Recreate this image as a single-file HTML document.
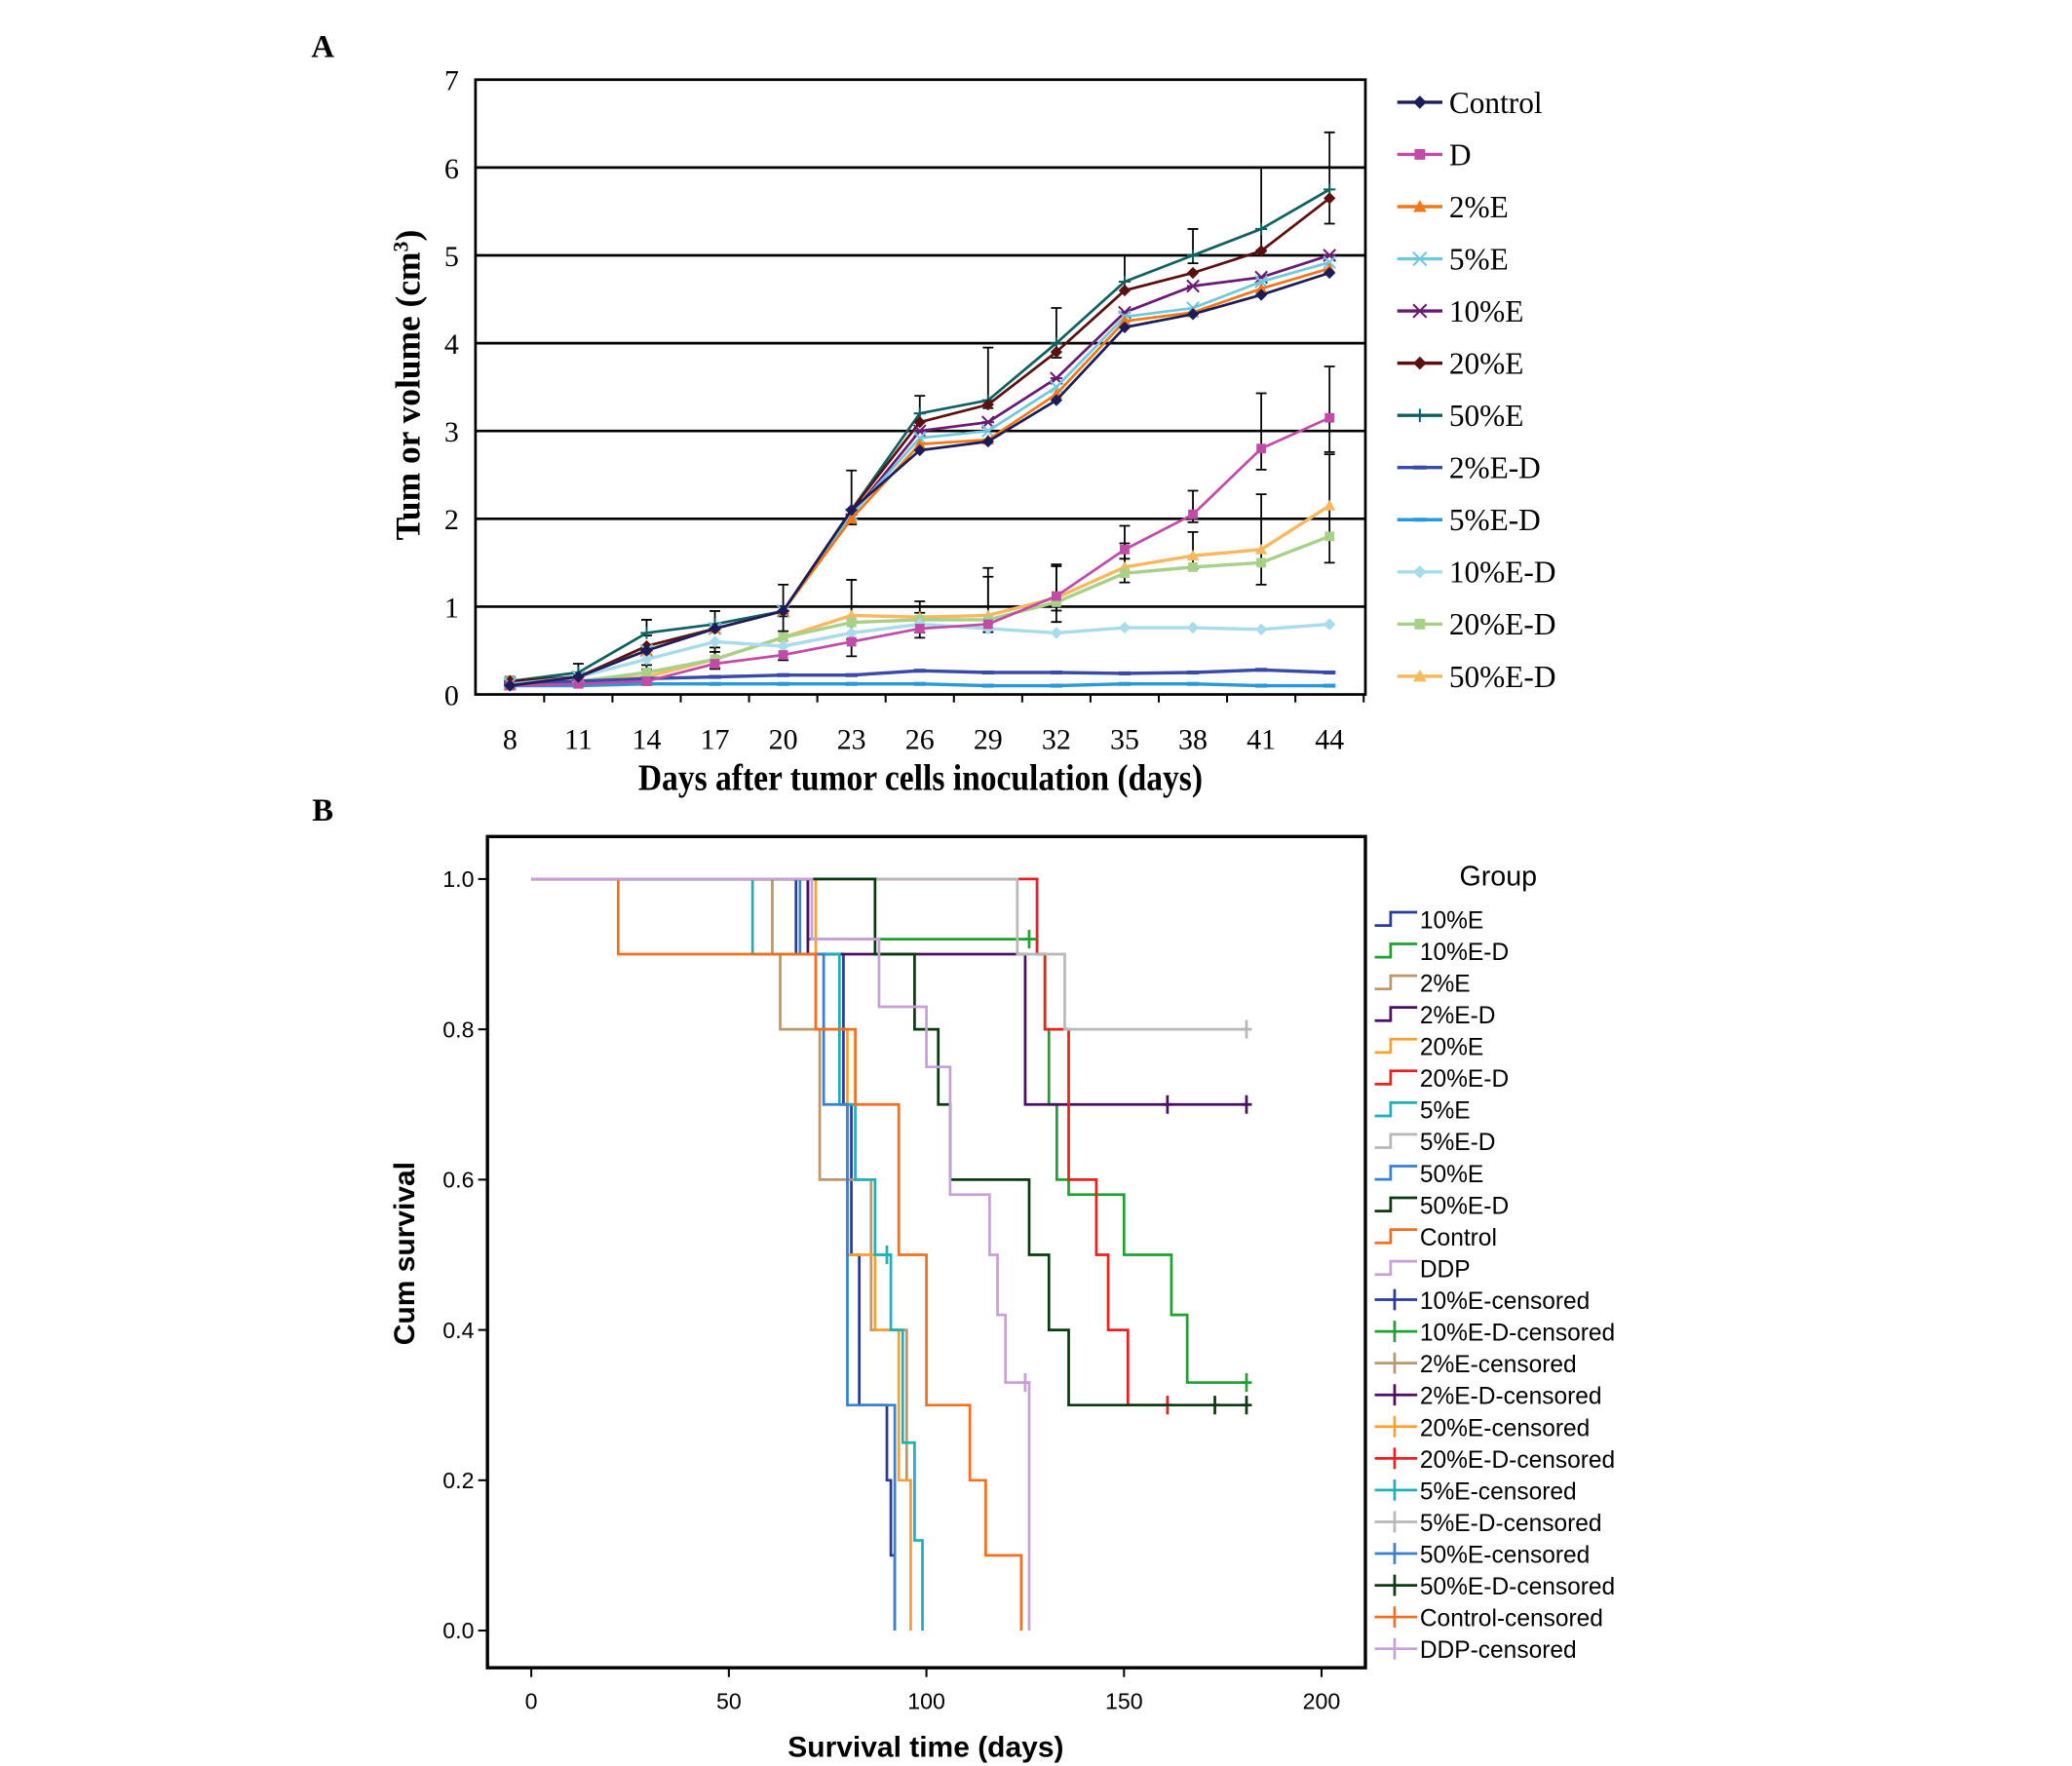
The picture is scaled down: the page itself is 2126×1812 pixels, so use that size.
<!DOCTYPE html>
<html><head><meta charset="utf-8"><style>
html,body{margin:0;padding:0;background:#fff}
svg{display:block}
.serif{font-family:"Liberation Serif",serif}
.sans{font-family:"Liberation Sans",sans-serif}
</style></head><body>
<svg id="chart" width="2126" height="1812" viewBox="0 0 1560 1330" preserveAspectRatio="none" xmlns="http://www.w3.org/2000/svg">
<text x="243" y="43" class="serif" font-size="24" font-weight="bold" text-anchor="middle">A</text>
<text x="243" y="618" class="serif" font-size="24" font-weight="bold" text-anchor="middle">B</text>
<g id="panelA"></g>
<g id="panelB"></g>
</svg>
<script>
// ---------- Panel A data ----------
const daysA = [8,11,14,17,20,23,26,29,32,35,38,41,44];
const yTicksA = [0,1,2,3,4,5,6,7];
const groupsA = ["Control","D","2%E","5%E","10%E","20%E","50%E","2%E-D","5%E-D","10%E-D","20%E-D","50%E-D"];
const colorsA = ["#1c1c5a","#c04ca8","#f07818","#70c8e0","#6a1a70","#5a1010","#106060","#3a4aa8","#2898d8","#a8dcea","#a8d088","#f8b860"];
const markersA = ["diamond","square","triangle","x","star","diamond","plus","dash","dash","diamond","square","triangle"];
const vControl = [0.1,0.2,0.5,0.75,0.95,2.1,2.78,2.88,3.35,4.18,4.33,4.55,4.8];
const vD       = [0.1,0.12,0.15,0.35,0.45,0.6,0.75,0.8,1.12,1.65,2.05,2.8,3.15];
const v2E      = [0.1,0.2,0.5,0.75,0.95,2.0,2.85,2.9,3.42,4.25,4.35,4.62,4.85];
const v5E      = [0.12,0.2,0.5,0.75,0.95,2.05,2.92,3.0,3.5,4.3,4.4,4.7,4.92];
const v10E     = [0.12,0.2,0.5,0.75,0.95,2.05,3.0,3.1,3.6,4.35,4.65,4.75,5.0];
const v20E     = [0.15,0.2,0.55,0.75,0.95,2.1,3.1,3.3,3.9,4.6,4.8,5.05,5.65];
const v50E     = [0.15,0.25,0.7,0.8,0.95,2.1,3.2,3.35,4.0,4.7,5.0,5.3,5.75];
const v2ED     = [0.12,0.15,0.18,0.2,0.22,0.22,0.27,0.25,0.25,0.24,0.25,0.28,0.25];
const v5ED     = [0.1,0.1,0.12,0.12,0.12,0.12,0.12,0.1,0.1,0.12,0.12,0.1,0.1];
const v10ED    = [0.15,0.2,0.4,0.6,0.55,0.7,0.8,0.75,0.7,0.76,0.76,0.74,0.8];
const v20ED    = [0.15,0.15,0.25,0.4,0.65,0.82,0.85,0.85,1.05,1.38,1.45,1.5,1.8];
const v50ED    = [0.1,0.15,0.2,0.4,0.65,0.9,0.88,0.9,1.1,1.45,1.58,1.65,2.15];
const errTop   = [0.05,0.1,0.15,0.15,0.3,0.45,0.2,0.6,0.4,0.3,0.3,0.7,0.65];
const errLow   = [0.05,0.05,0.1,0.2,0.2,0.55,0.35,0.3,0.55,0.35,0.3,0.8,1.3];
const valuesA = [vControl,vD,v2E,v5E,v10E,v20E,v50E,v2ED,v5ED,v10ED,v20ED,v50ED];

// ---------- Panel B data ----------
const xTicksB = [0,50,100,150,200];
const yTicksB = [0,0.2,0.4,0.6,0.8,1.0];
const groupsB = ["10%E","10%E-D","2%E","2%E-D","20%E","20%E-D","5%E","5%E-D","50%E","50%E-D","Control","DDP"];
const colorsB = ["#2a3a9a","#20a030","#b8986c","#4a1060","#f8a030","#e82020","#20b0b8","#b8b8b8","#3a80d0","#0a3a10","#f07020","#c8a0d8"];
const tE    = [0,67,79,81,83,90,91,92];            const sE    = [1,0.9,0.7,0.5,0.3,0.2,0.1,0];
const tED   = [0,70,128,130,131,133,136,150,162,166,181]; const sED = [1,0.92,0.9,0.8,0.7,0.6,0.58,0.5,0.42,0.33,0.33];
const t2E   = [0,61,63,73,86,95,96];               const s2E   = [1,0.9,0.8,0.6,0.4,0.2,0];
const t2ED  = [0,70,125,181];                      const s2ED  = [1,0.9,0.7,0.7];
const t20E  = [0,72,80,87,93,96];                  const s20E  = [1,0.8,0.5,0.4,0.2,0];
const t20ED = [0,128,130,136,143,146,151,161];     const s20ED = [1,0.9,0.8,0.6,0.5,0.4,0.3,0.3];
const t5E   = [0,56,78,82,87,91,94,97,99];         const s5E   = [1,0.9,0.7,0.6,0.5,0.4,0.25,0.12,0];
const t5ED  = [0,123,135,181];                     const s5ED  = [1,0.9,0.8,0.8];
const t50E  = [0,68,74,80,88,92];                  const s50E  = [1,0.9,0.7,0.3,0.3,0];
const t50ED = [0,67,87,97,103,106,126,131,136,181]; const s50ED = [1,1,0.9,0.8,0.7,0.6,0.5,0.4,0.3,0.3];
const tC    = [0,22,72,82,93,100,111,115,124];     const sC    = [1,0.9,0.8,0.7,0.5,0.3,0.2,0.1,0];
const tDDP  = [0,71,88,100,106,116,118,120,126];   const sDDP  = [1,0.92,0.83,0.75,0.58,0.5,0.42,0.33,0];
const timesB = [tE,tED,t2E,t2ED,t20E,t20ED,t5E,t5ED,t50E,t50ED,tC,tDDP];
const survB  = [sE,sED,s2E,s2ED,s20E,s20ED,s5E,s5ED,s50E,s50ED,sC,sDDP];
const censorT = [[],[126,181],[],[161,181],[],[161],[90],[181],[],[173,181],[],[125]];
const censorS = [[],[0.92,0.33],[],[0.7,0.7],[],[0.3],[0.5],[0.8],[],[0.3,0.3],[],[0.33]];

const NS="http://www.w3.org/2000/svg";
function mk(parent,tag,attrs,text){const e=document.createElementNS(NS,tag);for(const k in attrs)e.setAttribute(k,attrs[k]);if(text!==undefined)e.textContent=text;parent.appendChild(e);return e;}

// ---------- Draw A ----------
(function(){
const g=document.getElementById('panelA');
const L=358,R=1028,T=60,B=523;
const xA=i=>384+i*(1001-384)/(daysA.length-1);
const yA=v=>B-(v/7)*(B-T);
yTicksA.forEach(v=>{
  if(v>0&&v<7){const l=mk(g,'line',{x1:L,x2:R,y1:yA(v),y2:yA(v),stroke:'#000','stroke-width':2});
  
  }
  const t=mk(g,'text',{x:340,y:yA(v)+8,'font-size':22,'text-anchor':'middle',class:'serif'},String(v));
  
  
});
daysA.forEach((d,i)=>{
  const tk=mk(g,'line',{x1:xA(i)+25.7,x2:xA(i)+25.7,y1:B,y2:B+6,stroke:'#000','stroke-width':1.5});
  
  
  const t=mk(g,'text',{x:xA(i),y:564,'font-size':22,'text-anchor':'middle',class:'serif'},String(d));
  
  
});
[6,1,11].forEach(si=>{
  valuesA[si].forEach((v,i)=>{
    const up=si===6?errTop[i]:errTop[i]*0.9, lo=si===11?errLow[i]*0.5:errLow[i]*0.3;
    const e=mk(g,'path',{d:`M${xA(i)} ${yA(v+up)}V${yA(Math.max(0,v-lo))}M${xA(i)-4} ${yA(v+up)}h8M${xA(i)-4} ${yA(Math.max(0,v-lo))}h8`,stroke:'#000','stroke-width':1.3,fill:'none'});
    
    
  });
});
function marker(p,type,x,y,c,s){
  let e;
  if(type==='diamond')e=mk(p,'path',{d:`M${x} ${y-s}L${x+s} ${y}L${x} ${y+s}L${x-s} ${y}Z`,fill:c});
  else if(type==='square')e=mk(p,'rect',{x:x-s*0.8,y:y-s*0.8,width:s*1.6,height:s*1.6,fill:c});
  else if(type==='triangle')e=mk(p,'path',{d:`M${x} ${y-s}L${x+s} ${y+s*0.8}L${x-s} ${y+s*0.8}Z`,fill:c});
  else if(type==='x')e=mk(p,'path',{d:`M${x-s} ${y-s}L${x+s} ${y+s}M${x-s} ${y+s}L${x+s} ${y-s}`,stroke:c,'stroke-width':1.5});
  else if(type==='star')e=mk(p,'path',{d:`M${x-s} ${y-s}L${x+s} ${y+s}M${x-s} ${y+s}L${x+s} ${y-s}M${x-s} ${y}h${2*s}`,stroke:c,'stroke-width':1.5});
  else if(type==='plus')e=mk(p,'path',{d:`M${x-s} ${y}h${2*s}M${x} ${y-s}v${2*s}`,stroke:c,'stroke-width':1.5});
  else e=mk(p,'path',{d:`M${x-s} ${y}h${2*s}`,stroke:c,'stroke-width':3});
  return e;
}
for(let si=valuesA.length-1;si>=0;si--){
  const vals=valuesA[si];
  const d=vals.map((v,i)=>(i?'L':'M')+xA(i)+' '+yA(v)).join('');
  const ln=mk(g,'path',{d,fill:'none',stroke:colorsA[si],'stroke-width':si>=7?2.5:2});
  
  
  vals.forEach((v,i)=>{const m=marker(g,markersA[si],xA(i),yA(v),colorsA[si],4.5);
    
    });
}
const fr=mk(g,'rect',{x:L,y:T,width:R-L,height:B-T,fill:'none',stroke:'#000','stroke-width':2});


groupsA.forEach((n,i)=>{
  const y=77+i*39.3;
  const lg=mk(g,'g',{});
  
  
  mk(lg,'line',{x1:1052,x2:1086,y1:y,y2:y,stroke:colorsA[i],'stroke-width':2.5});
  marker(lg,markersA[i],1069,y,colorsA[i],5);
  mk(lg,'text',{x:1091,y:y+8,'font-size':23,class:'serif'},n);
});
const yt=mk(g,'text',{x:0,y:0,'font-size':26,'font-weight':'bold',class:'serif','text-anchor':'middle',transform:'translate(316,290) rotate(-90)'});


yt.innerHTML='Tum or volume (cm<tspan baseline-shift="super" font-size="16">3</tspan>)';
const xt=mk(g,'text',{x:693,y:595,'font-size':28,'font-weight':'bold',class:'serif','text-anchor':'middle',textLength:425,lengthAdjust:'spacingAndGlyphs'},'Days after tumor cells inoculation (days)');


})();

// ---------- Draw B ----------
(function(){
const g=document.getElementById('panelB');
const L=367,R=1028,T=630,B=1256;
const xB=t=>400+t*(995-400)/200;
const yB=s=>1228-s*(1228-662);
yTicksB.forEach(v=>{
  const tk=mk(g,'line',{x1:L-7,x2:L,y1:yB(v),y2:yB(v),stroke:'#000','stroke-width':1.5});
  
  
  const t=mk(g,'text',{x:357,y:yB(v)+6,'font-size':17,'text-anchor':'end',class:'sans'},v.toFixed(1));
  
  
});
xTicksB.forEach(v=>{
  const tk=mk(g,'line',{x1:xB(v),x2:xB(v),y1:B,y2:B+7,stroke:'#000','stroke-width':1.5});
  
  
  const t=mk(g,'text',{x:xB(v),y:1287,'font-size':17,'text-anchor':'middle',class:'sans'},String(v));
  
  
});
for(let si=0;si<groupsB.length;si++){
  const ts=timesB[si],ss=survB[si];
  let d='M'+xB(ts[0])+' '+yB(ss[0]);
  for(let i=1;i<ts.length;i++){d+='H'+xB(ts[i])+'V'+yB(ss[i]);}
  const p=mk(g,'path',{d,fill:'none',stroke:colorsB[si],'stroke-width':2});
  
  
  censorT[si].forEach((t,i)=>{
    const c=mk(g,'path',{d:`M${xB(t)} ${yB(censorS[si][i])-7}v14M${xB(t)-4} ${yB(censorS[si][i])}h8`,stroke:colorsB[si],'stroke-width':2});
    
    
  });
}
const fr=mk(g,'rect',{x:L,y:T,width:R-L,height:B-T,fill:'none',stroke:'#000','stroke-width':2.5});


const gt=mk(g,'text',{x:1128,y:667,'font-size':21,'text-anchor':'middle',class:'sans'},'Group');


const labels=groupsB.concat(groupsB.map(n=>n+'-censored'));
labels.forEach((n,i)=>{
  const y=692+i*23.9, ci=i%12;
  const lg=mk(g,'g',{});
  
  
  if(i<12) mk(lg,'path',{d:`M1035 ${y+5}h12v-10h20`,stroke:colorsB[ci],'stroke-width':2,fill:'none'});
  else mk(lg,'path',{d:`M1035 ${y}h32M1050 ${y-8}v16`,stroke:colorsB[ci],'stroke-width':2,fill:'none'});
  mk(lg,'text',{x:1069,y:y+7,'font-size':18,class:'sans'},n);
});
const yt=mk(g,'text',{x:0,y:0,'font-size':22,'font-weight':'bold',class:'sans','text-anchor':'middle',transform:'translate(312,944) rotate(-90)'},'Cum  survival');


const xt=mk(g,'text',{x:697,y:1323,'font-size':22,'font-weight':'bold',class:'sans','text-anchor':'middle'},'Survival time (days)');


})();
</script>
</body></html>
